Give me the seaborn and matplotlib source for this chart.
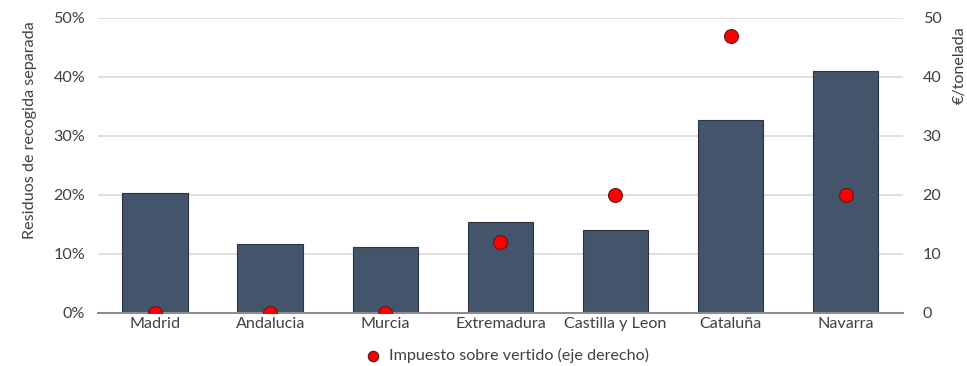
import matplotlib
matplotlib.use("Agg")
import matplotlib.pyplot as plt
from matplotlib.ticker import PercentFormatter
import seaborn as sns
import pandas as pd

# Separate-collection share by region and landfill tax (EUR/t)
regions = ["Madrid", "Andalucia", "Murcia", "Extremadura", "Castilla y Leon", "Cataluña", "Navarra"]
separate_share = [20.3, 11.6, 11.2, 15.4, 14.1, 32.7, 41.0]
landfill_tax = [0, 0, 0, 12, 20, 47, 20]

df = pd.DataFrame({"region": regions, "share": separate_share, "tax": landfill_tax})

sns.set_theme(style="white")
plt.rcParams["font.family"] = ["Lato", "DejaVu Sans"]
text_col = "#404040"
fs = 11.6

fig = plt.figure(figsize=(9.67, 3.66), dpi=100)
ax = fig.add_axes([0.101, 0.145, 0.833, 0.806])

sns.barplot(data=df, x="region", y="share", ax=ax, color="#44546A",
            saturation=1, width=0.57, edgecolor="#2b3442", linewidth=0.8, zorder=2)

ax.set_ylim(0, 50)
ax.set_yticks(range(0, 51, 10))
ax.yaxis.set_major_formatter(PercentFormatter(decimals=0))
ax.set_xlim(-0.5, len(regions) - 0.5)
ax.grid(axis="y", color="#d9d9d9", linewidth=1.2, zorder=0)
ax.set_axisbelow(True)
for s in ["left", "right", "top"]:
    ax.spines[s].set_visible(False)
ax.spines["bottom"].set_color("#8c8c8c")
ax.spines["bottom"].set_linewidth(1.5)
ax.spines["bottom"].set_zorder(3)
ax.tick_params(axis="both", length=0, labelsize=fs, labelcolor=text_col)
ax.tick_params(axis="x", pad=3)
ax.tick_params(axis="y", pad=9)
ax.set_xlabel("")
ax.set_ylabel("Residuos de recogida separada", fontsize=fs, color=text_col)
ax.yaxis.set_label_coords(-0.075, 0.62)

ax2 = ax.twinx()
sns.scatterplot(data=df, x="region", y="tax", ax=ax2, color="#ff0000",
                edgecolor="#5a1a1a", linewidth=0.8, s=100, zorder=4,
                label="Impuesto sobre vertido (eje derecho)", legend=False)
ax2.set_ylim(0, 50)
ax2.set_yticks(range(0, 51, 10))
for s in ax2.spines.values():
    s.set_visible(False)
ax2.tick_params(axis="y", length=0, labelsize=fs, labelcolor=text_col, pad=14)
ax2.set_ylabel("€/tonelada", fontsize=fs, color=text_col)
ax2.yaxis.set_label_coords(1.062, 0.84)

handles, labels = ax2.get_legend_handles_labels()
fig.legend(handles, labels, loc="center", bbox_to_anchor=(0.52, 0.028),
           frameon=False, fontsize=fs, labelcolor=text_col,
           handletextpad=0.0, markerscale=0.75)

fig.savefig("out.png", dpi=100)
